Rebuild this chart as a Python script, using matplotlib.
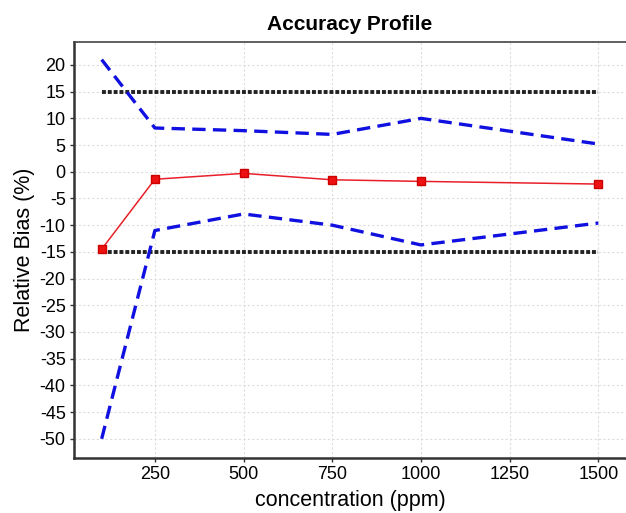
import matplotlib
matplotlib.use('Agg')
import matplotlib.pyplot as plt

plt.rcParams['font.family'] = ['Liberation Sans', 'DejaVu Sans']
plt.rcParams['axes.unicode_minus'] = False

# data
conc = [100, 250, 500, 750, 1000, 1500]
bias = [-14.5, -1.4, -0.3, -1.5, -1.8, -2.3]
upper_tol = [21.0, 8.2, 7.7, 7.0, 10.0, 5.2]
lower_tol = [-50.0, -11.0, -7.9, -10.0, -13.7, -9.6]
acc_limits = [15, -15]
xticks = [250, 500, 750, 1000, 1250, 1500]
yticks = list(range(-50, 25, 5))

fig = plt.figure(figsize=(6.26, 5.13), dpi=100)
ax = fig.add_axes([0.1182, 0.1072, 0.8818, 0.8109])

ax.grid(True, color='#dcdcdc', linestyle=(0, (2, 2)), linewidth=0.8)
ax.set_axisbelow(True)

# acceptance limits
for lim in acc_limits:
    ax.plot([conc[0], conc[-1]], [lim, lim], color='#222222', linestyle=(0, (1, 0.5)),
            linewidth=2.8)

# tolerance interval
ax.plot(conc, upper_tol, color='#1010e0', linestyle=(0, (4, 2.2)), linewidth=2.4)
ax.plot(conc, lower_tol, color='#1010e0', linestyle=(0, (4, 2.2)), linewidth=2.4)

# relative bias
ax.plot(conc, bias, color='#e8202a', linewidth=1.1, marker='s', markersize=6,
        markerfacecolor='#ee1111', markeredgecolor='#cc0000')

ax.set_xlim(22, 1578)
ax.set_ylim(-53.6, 24.3)
ax.set_xticks(xticks)
ax.set_yticks(yticks)

ax.spines['right'].set_visible(False)
ax.spines['left'].set_linewidth(1.8)
ax.spines['bottom'].set_linewidth(1.8)
ax.spines['left'].set_color('#333333')
ax.spines['bottom'].set_color('#333333')
ax.spines['top'].set_linewidth(1.2)
ax.spines['top'].set_color('#444444')
ax.tick_params(axis='both', labelsize=13, length=3, width=1, color='#333333', pad=3)

ax.set_title('Accuracy Profile', fontsize=15, fontweight='bold', pad=9)
ax.set_xlabel('concentration (ppm)', fontsize=15.5, labelpad=5)
ax.set_ylabel('Relative Bias (%)', fontsize=15.5, labelpad=3)

fig.savefig('out.png', dpi=100)
